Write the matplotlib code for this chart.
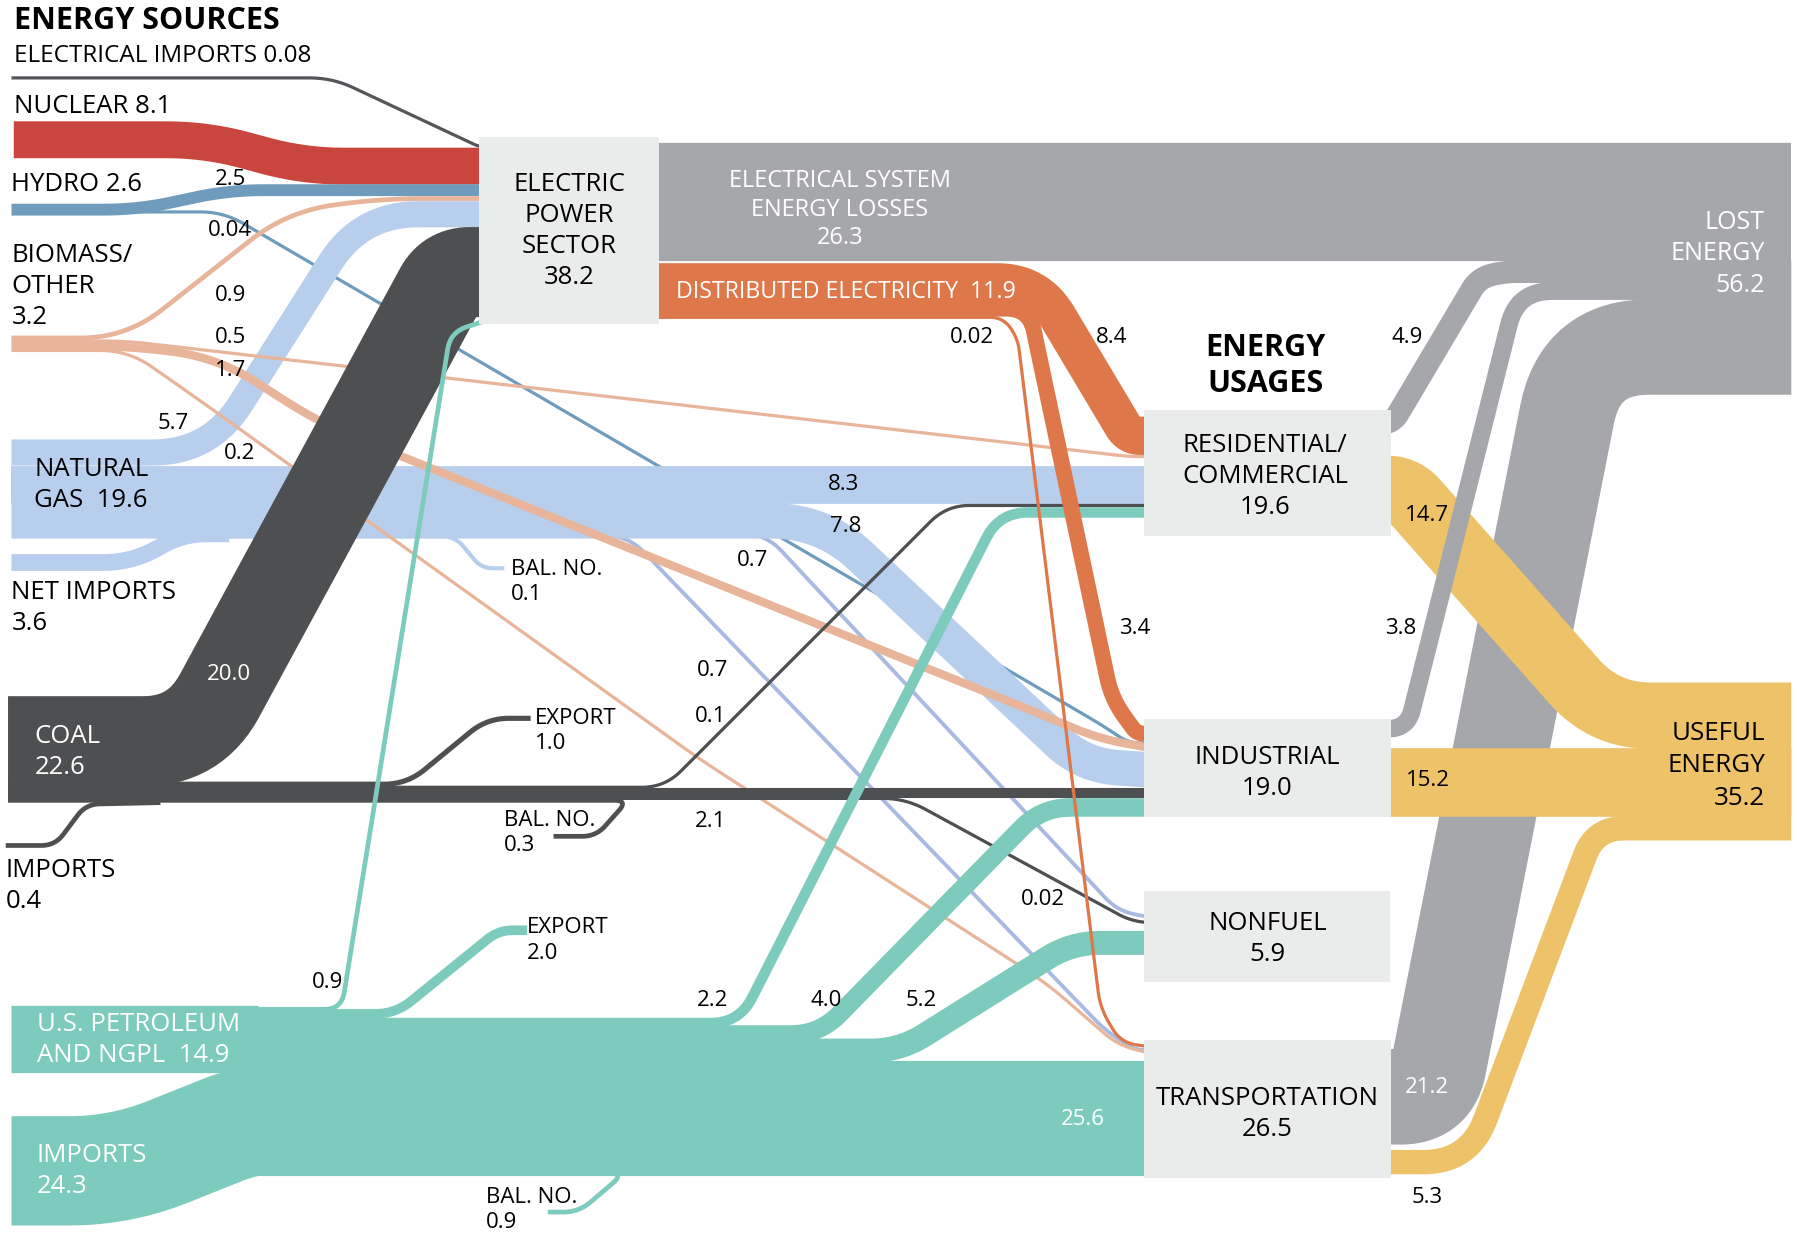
import numpy as np
import matplotlib
matplotlib.use("Agg")
import matplotlib.pyplot as plt
from matplotlib.patches import Rectangle

plt.rcParams['font.family'] = ['Open Sans', 'DejaVu Sans']

# ---- data (quads) ----
elec_import_vals = [0.08]
nuclear_vals = [8.1]
hydro_vals = [2.5, 0.04]                      # power, industrial
biomass_vals = [0.9, 0.5, 1.7, 0.2]            # power, res/com, industrial, transport
gas_vals = [5.7, 8.3, 7.8, 0.7, 0.7, 0.1]      # power, res/com, industrial, nonfuel, transport, bal. no.
net_import_vals = [3.6]
coal_vals = [20.0, 1.0, 0.1, 2.1, 0.02, 0.3]   # power, export, res/com, industrial, nonfuel, bal. no.
coal_import_vals = [0.4]
petro_src_vals = [14.9, 24.3]                  # U.S. petroleum and NGPL, imports
petro_vals = [0.9, 2.0, 2.2, 4.0, 5.2, 25.6, 0.9]  # power, export, res/com, ind, nonfuel, transport, bal. no.
power_out_vals = [26.3, 11.9]                  # losses, distributed electricity
elec_vals = [8.4, 3.4, 0.02]                   # res/com, industrial, transport
lost_vals = [4.9, 3.8, 21.2]                   # res/com, industrial, transport
useful_vals = [14.7, 15.2, 5.3]                # res/com, industrial, transport

source_names = ["ELECTRICAL IMPORTS", "NUCLEAR", "HYDRO", "BIOMASS/\nOTHER", "NATURAL\nGAS ",
                "NET IMPORTS", "COAL", "IMPORTS", "U.S. PETROLEUM\nAND NGPL ", "IMPORTS"]
source_totals = [0.08, 8.1, 2.6, 3.2, 19.6, 3.6, 22.6, 0.4, 14.9, 24.3]
usage_names = ["RESIDENTIAL/\nCOMMERCIAL", "INDUSTRIAL", "NONFUEL", "TRANSPORTATION"]
usage_totals = [19.6, 19.0, 5.9, 26.5]
power_total = 38.2
lost_total = 56.2
useful_total = 35.2

# ---- colours ----
C_IMP = '#55565A'
C_NUC = '#C8463D'
C_HYD = '#6F9CBC'
C_BIO = '#E8B49A'
C_GAS = '#B7CFEC'
C_GAS2 = '#A9B9E2'
C_COAL = '#4E4F51'
C_PET = '#7CCBBD'
C_LOSS = '#A6A7AA'
C_ELEC = '#DE784B'
C_USE = '#EDC268'
C_BOX = '#EAEBEB'

W, H = 1568, 1078
K = 3.9                       # layout units per quad
PT = 1797 / W * 72 / 100      # layout units -> points


def fmt(v):
    return f"{v:.2f}" if v < 0.1 else f"{v:.1f}"


def rounded(pts, r, n=16):
    pts = np.asarray(pts, float)
    rs = r if np.iterable(r) else [r] * (len(pts) - 2)
    out = [pts[0]]
    for i in range(1, len(pts) - 1):
        p0, p1, p2 = pts[i - 1], pts[i], pts[i + 1]
        d1 = p1 - p0
        d2 = p2 - p1
        l1, l2 = np.hypot(*d1), np.hypot(*d2)
        rr = min(rs[i - 1], l1 / 2, l2 / 2)
        a = p1 - d1 / l1 * rr
        b = p1 + d2 / l2 * rr
        t = np.linspace(0, 1, n)[:, None]
        out.extend((1 - t) ** 2 * a + 2 * (1 - t) * t * p1 + t ** 2 * b)
    out.append(pts[-1])
    return np.array(out)


def band(value, pts, color, r=30, z=2, minw=2.2):
    w = max(value * K, minw) + 0.6   # small overlap hides seams between stacked flows
    xy = rounded(pts, r)
    ax.plot(xy[:, 0], xy[:, 1], color=color, lw=w * PT, solid_capstyle='butt',
            solid_joinstyle='round', zorder=z)


def label(x, y, s, size=16, color='black', ha='center', weight='normal', dy=27):
    for i, line in enumerate(s.split('\n')):
        ax.text(x, y + i * dy, line, fontsize=size, color=color, ha=ha, va='center',
                fontweight=weight, zorder=20)


fig = plt.figure(figsize=(17.97, 12.35), dpi=100)
ax = fig.add_axes([0, 0, 1, 1])
ax.set_xlim(0, W)
ax.set_ylim(H, 0)
ax.axis('off')

# ---- sources -> power sector / usages ----
band(elec_import_vals[0], [(10, 68), (290, 68), (418, 128), (428, 128)], C_IMP, r=20, z=3)
band(nuclear_vals[0], [(12, 122), (180, 122), (265, 145), (428, 145)], C_NUC, r=35, z=3)

band(hydro_vals[0], [(10, 183), (120, 183), (200, 166), (428, 166)], C_HYD, r=30, z=3)
band(hydro_vals[1], [(115, 185), (195, 185), (960, 632), (985, 648.5), (1005, 648.5)], C_HYD, r=20, z=1)

# natural gas
band(gas_vals[0], [(10, 395), (183, 395), (315, 187), (428, 187)], C_GAS, r=50, z=2)
band(gas_vals[1], [(10, 423.2), (1005, 423.2)], C_GAS, z=2)
band(gas_vals[2], [(10, 454.6), (718, 454.6), (945, 668), (1005, 672.2)], C_GAS, r=45, z=2)
band(net_import_vals[0], [(10, 491), (115, 491), (160, 466), (200, 466)], C_GAS, r=25, z=2)
band(gas_vals[3], [(180, 466), (668, 466), (975, 795), (1005, 801)], C_GAS2, r=20, z=1.5)
band(gas_vals[4], [(180, 467.5), (548, 467.5), (965, 900), (990, 916), (1005, 917)], C_GAS2, r=20, z=1.5)
band(gas_vals[5], [(180, 468), (397, 468), (420, 496), (440, 496)], C_GAS, r=12, z=1.5, minw=3)

# biomass
band(biomass_vals[0], [(10, 295), (110, 295), (250, 185), (330, 173.3), (428, 173.3)], C_BIO, r=40, z=3)
band(biomass_vals[1], [(10, 297.7), (110, 297.7), (985, 398.5), (1005, 398.5)], C_BIO, r=20, z=3)
band(biomass_vals[2], [(10, 301.9), (110, 301.9), (190, 312), (280, 370), (880, 612), (960, 645),
                       (1005, 653.1)], C_BIO, r=40, z=3)
band(biomass_vals[3], [(10, 305.9), (112, 305.9), (175, 350), (611, 663), (913, 858), (975, 912),
                       (1005, 919.8)], C_BIO, r=25, z=3)

# coal
band(coal_vals[0], [(7, 647), (170, 647), (392, 237.5), (428, 237.5)], C_COAL, r=45, z=4)
band(coal_vals[1], [(7, 684.5), (355, 684.5), (425, 627), (463, 627)], C_COAL, r=20, z=4)
band(coal_vals[2], [(7, 687.2), (580, 687.2), (826, 441.2), (1005, 441.2)], C_COAL, r=20, z=4)
band(coal_vals[3], [(7, 692), (1005, 692)], C_COAL, z=4)
band(coal_vals[4], [(7, 696.9), (790, 696.9), (985, 803), (1005, 806)], C_COAL, r=20, z=4)
band(coal_vals[5], [(7, 698.6), (548, 698.6), (520, 730), (483, 730)], C_COAL, r=12, z=4, minw=3.5)
band(coal_import_vals[0], [(5, 738), (48, 738), (75, 702), (140, 700.6)], C_COAL, r=12, z=4, minw=3.5)

# petroleum
band(petro_src_vals[0], [(10, 906.5), (225, 906.5)], C_PET, z=5)
band(petro_src_vals[1], [(10, 1022), (105, 1022), (215, 978), (260, 976)], C_PET, r=45, z=5)
band(petro_vals[0], [(200, 881), (298, 881), (393, 290), (428, 278.5)], C_PET, r=15, z=5)
band(petro_vals[1], [(200, 885), (345, 885), (435, 812), (460, 812)], C_PET, r=18, z=5)
band(petro_vals[2], [(200, 893), (645, 893), (872, 447.3), (1005, 447.3)], C_PET, r=25, z=5)
band(petro_vals[3], [(200, 903), (715, 903), (909, 704.8), (1005, 704.8)], C_PET, r=25, z=5)
band(petro_vals[4], [(200, 917), (785, 917), (935, 823), (1005, 823)], C_PET, r=25, z=5)
band(petro_vals[5], [(200, 976), (1005, 976)], C_PET, z=5)
band(petro_vals[6], [(200, 1024), (545, 1024), (505, 1058), (478, 1058)], C_PET, r=14, z=5)

# ---- power sector outputs ----
band(power_out_vals[0], [(560, 176.3), (1563, 176.3)], C_LOSS, z=7)
band(elec_vals[0], [(560, 246.4), (905, 246.4), (985, 380.4), (1005, 380.4)], C_ELEC, r=35, z=6)
band(elec_vals[1], [(560, 269.4), (898, 269.4), (970, 610), (992, 640.4), (1005, 640.4)], C_ELEC, r=20, z=6)
band(elec_vals[2], [(560, 277), (875, 277), (888, 295), (960, 880), (978, 910), (1005, 914)], C_ELEC, r=15, z=6)

# ---- usages -> lost / useful ----
band(lost_vals[0], [(1195, 369.5), (1215, 369.5), (1290, 243), (1312, 237.2), (1563, 237.2)], C_LOSS, r=25, z=7)
band(lost_vals[2], [(1195, 957.4), (1250, 957.4), (1379, 302.9), (1563, 302.9)], C_LOSS, r=[60, 60], z=7)
band(useful_vals[0], [(1195, 426.7), (1225, 426.7), (1400, 624.7), (1563, 624.7)], C_USE, r=40, z=8)
band(useful_vals[1], [(1195, 683), (1563, 683)], C_USE, z=8)
band(useful_vals[2], [(1195, 1014.4), (1282, 1014.4), (1392, 723), (1563, 723)], C_USE, r=[40, 25], z=8)
band(lost_vals[1], [(1195, 636), (1228, 636), (1324, 254.1), (1563, 254.1)], C_LOSS, r=30, z=9)

# collecting nodes on the right
ax.add_patch(Rectangle((1444, 125), 1563 - 1444, lost_total * K, facecolor=C_LOSS,
                       edgecolor='none', zorder=9.5))
ax.add_patch(Rectangle((1428, 596), 1563 - 1428, useful_total * K, facecolor=C_USE,
                       edgecolor='none', zorder=8.5))

# ---- node boxes ----
boxes = [(418, 120, 157, 163), (998, 358, 216, 110), (998, 628, 216, 85),
         (998, 778, 215, 79), (998, 908, 216, 120)]
for bx, by, bw, bh in boxes:
    ax.add_patch(Rectangle((bx, by), bw, bh, facecolor=C_BOX, edgecolor='none', zorder=10))

# ---- text ----
label(12, 18, "ENERGY SOURCES", size=22, ha='left', weight='bold')
label(1104, 304, "ENERGY\nUSAGES", size=22, weight='bold', dy=31)

label(12, 49, f"{source_names[0]} {fmt(source_totals[0])}", size=17.5, ha='left')
label(12, 93, f"{source_names[1]} {fmt(source_totals[1])}", size=18.5, ha='left')
label(10, 161, f"{source_names[2]} {fmt(source_totals[2])}", size=18.5, ha='left')
label(10, 223, f"{source_names[3]}\n{fmt(source_totals[3])}", size=18.5, ha='left')
label(30, 410, f"{source_names[4]} {fmt(source_totals[4])}", size=18.5, ha='left')
label(10, 517, f"{source_names[5]}\n{fmt(source_totals[5])}", size=18.5, ha='left')
label(30, 643, f"{source_names[6]}\n{fmt(source_totals[6])}", size=18.5, ha='left', color='white')
label(5, 760, f"{source_names[7]}\n{fmt(source_totals[7])}", size=18.5, ha='left')
label(32, 894, f"{source_names[8]} {fmt(source_totals[8])}", size=18.5, ha='left', color='white')
label(32, 1009, f"{source_names[9]}\n{fmt(source_totals[9])}", size=18.5, ha='left', color='white')

label(497, 161, f"ELECTRIC\nPOWER\nSECTOR\n{fmt(power_total)}", size=18.5)
label(1104, 389, f"{usage_names[0]}\n{fmt(usage_totals[0])}", size=18.5)
label(1106, 661, f"{usage_names[1]}\n{fmt(usage_totals[1])}", size=18.5)
label(1106, 806, f"{usage_names[2]}\n{fmt(usage_totals[2])}", size=18.5)
label(1106, 959, f"{usage_names[3]}\n{fmt(usage_totals[3])}", size=18.5)

label(733, 158, f"ELECTRICAL SYSTEM\nENERGY LOSSES\n{fmt(power_out_vals[0])}", size=17, color='white', dy=25)
label(590, 255, f"DISTRIBUTED ELECTRICITY  {fmt(power_out_vals[1])}", size=16.7, color='white', ha='left')
label(1540, 194, f"LOST\nENERGY\n{fmt(lost_total)}", size=18, color='white', ha='right', dy=27.5)
label(1540, 640, f"USEFUL\nENERGY\n{fmt(useful_total)}", size=18.7, ha='right', dy=28.5)

# flow values
label(201, 157, fmt(hydro_vals[0]))
label(201, 201, fmt(hydro_vals[1]))
label(201, 258, fmt(biomass_vals[0]))
label(201, 295, fmt(biomass_vals[1]))
label(201, 323, fmt(biomass_vals[2]))
label(151, 370, fmt(gas_vals[0]))
label(209, 396, fmt(biomass_vals[3]))
label(200, 589, fmt(coal_vals[0]), color='white')
label(286, 858, fmt(petro_vals[0]))
label(622, 873, fmt(petro_vals[2]))
label(721, 873, fmt(petro_vals[3]))
label(804, 873, fmt(petro_vals[4]))
label(945, 977, fmt(petro_vals[5]), color='white')
label(657, 489, fmt(gas_vals[3]))
label(622, 585, fmt(gas_vals[4]))
label(620, 625, fmt(coal_vals[2]))
label(620, 717, fmt(coal_vals[3]))
label(736, 423, fmt(gas_vals[1]))
label(738, 460, fmt(gas_vals[2]))
label(848, 295, fmt(elec_vals[2]))
label(970, 295, fmt(elec_vals[0]))
label(990, 549, fmt(elec_vals[1]))
label(910, 785, fmt(coal_vals[4]))
label(1228, 295, fmt(lost_vals[0]))
label(1245, 450, fmt(useful_vals[0]))
label(1222, 549, fmt(lost_vals[1]))
label(1246, 681, fmt(useful_vals[1]))
label(1245, 949, fmt(lost_vals[2]), color='white')
label(1245, 1045, fmt(useful_vals[2]))
label(446, 497, f"BAL. NO.\n{fmt(gas_vals[5])}", ha='left', dy=22)
label(467, 627, f"EXPORT\n{fmt(coal_vals[1])}", ha='left', dy=22)
label(440, 716, f"BAL. NO.\n{fmt(coal_vals[5])}", ha='left', dy=22)
label(460, 810, f"EXPORT\n{fmt(petro_vals[1])}", ha='left', dy=22)
label(424, 1045, f"BAL. NO.\n{fmt(petro_vals[6])}", ha='left', dy=22)

fig.savefig("out.png", dpi=100, facecolor='white')
